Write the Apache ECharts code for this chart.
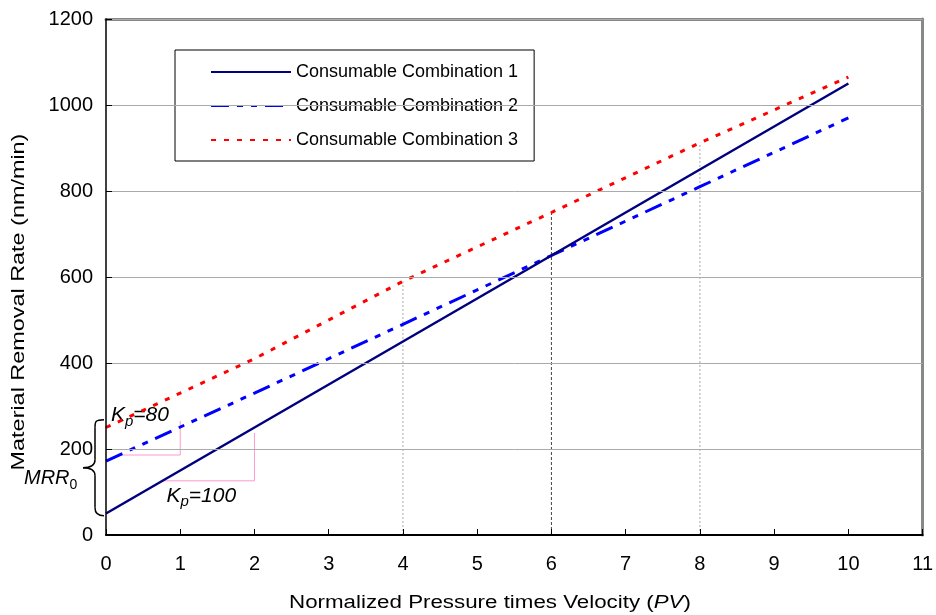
<!DOCTYPE html>
<html>
<head>
<meta charset="utf-8">
<script src="https://cdn.jsdelivr.net/npm/echarts@6/dist/echarts.min.js"></script>
<style>
html, body { margin: 0; padding: 0; background: #fff; }
#main { width: 936px; height: 615px; }
</style>
</head>
<body>
<div id="main"></div>
<script>
// values
var pv = [0, 2, 4, 6, 8, 10];
var combo1 = [50, 250, 450, 650, 850, 1050];
var combo2 = [172, 330, 490, 650, 810, 970];
var combo3 = [250, 410, 590, 750, 912, 1065];
var names = ['Consumable Combination 1', 'Consumable Combination 2', 'Consumable Combination 3'];

// drop lines down from combination 3
var dropX = [4, 6, 8];
var dropTop = [590, 750, 912];

// slope triangles (x, y) and the MRR0 brace range
var kp80 = [[0.2, 186], [1, 186], [1, 265]];
var kp100 = [[0.75, 126], [2, 126], [2, 237]];
var braceRange = [45, 268];

var FONT = 'Liberation Sans, Arial, sans-serif';

function pairs(xs, ys) {
  return xs.map(function (x, i) { return [x, ys[i]]; });
}

var chart = echarts.init(document.getElementById('main'));

var series = [
  {
    name: names[0], type: 'line', data: pairs(pv, combo1),
    symbol: 'none', z: 5,
    lineStyle: { color: '#000080', width: 2.5 },
    itemStyle: { color: '#000080' }
  },
  {
    name: names[1], type: 'line', data: pairs(pv, combo2),
    symbol: 'none', z: 4,
    lineStyle: { color: '#0000ff', width: 3, type: [18, 8, 6, 8, 6, 8] },
    itemStyle: { color: '#0000ff' }
  },
  {
    name: names[2], type: 'line', data: pairs(pv, combo3),
    symbol: 'none', z: 4,
    lineStyle: { color: '#ff0000', width: 3, type: [5, 8] },
    itemStyle: { color: '#ff0000' }
  }
];

dropX.forEach(function (x, i) {
  series.push({
    type: 'line', data: [[x, 0], [x, dropTop[i]]],
    symbol: 'none', silent: true, z: 2,
    lineStyle: x === 6
      ? { color: '#444', width: 1, type: [3, 2] }
      : { color: '#aaa', width: 1, type: [2, 2] }
  });
});

[kp80, kp100].forEach(function (tri) {
  series.push({
    type: 'line', data: tri, symbol: 'none', silent: true, z: 3,
    lineStyle: { color: '#ff99cc', width: 1 }
  });
});

var plain = function (v) { return String(v); };

var option = {
  backgroundColor: '#fff',
  animation: false,
  textStyle: { fontFamily: FONT },
  grid: { left: 106, right: 9, top: 19, bottom: 80 },
  legend: {
    data: names,
    orient: 'vertical',
    left: 175, top: 50,
    backgroundColor: '#fff',
    borderColor: '#000', borderWidth: 1,
    padding: [13, 16, 12, 35],
    itemWidth: 80, itemHeight: 14, itemGap: 16,
    itemStyle: { opacity: 0 },
    textStyle: { fontFamily: FONT, fontSize: 18, color: '#000' }
  },
  xAxis: [
    {
      type: 'value', min: 0, max: 11, interval: 1,
      axisLine: { lineStyle: { color: '#000', width: 2 } },
      axisTick: { inside: true, length: 6, lineStyle: { color: '#000' } },
      axisLabel: { fontFamily: FONT, fontSize: 20, color: '#000', margin: 19, formatter: plain },
      splitLine: { show: false },
      z: 10
    },
    {
      type: 'value', position: 'top', min: 0, max: 11,
      axisLine: { onZero: false, lineStyle: { color: '#888', width: 3 } },
      axisTick: { show: false }, axisLabel: { show: false }, splitLine: { show: false }
    }
  ],
  yAxis: [
    {
      type: 'value', min: 0, max: 1200, interval: 200,
      axisLine: { show: true, lineStyle: { color: '#000', width: 1.5 } },
      axisTick: { show: true, inside: true, length: 6, lineStyle: { color: '#000' } },
      axisLabel: { fontFamily: FONT, fontSize: 20, color: '#000', margin: 13, formatter: plain },
      splitLine: { show: true, lineStyle: { color: '#aaa', width: 1 } },
      z: 10
    },
    {
      type: 'value', position: 'right', min: 0, max: 1200,
      axisLine: { show: true, onZero: false, lineStyle: { color: '#888', width: 3 } },
      axisTick: { show: false }, axisLabel: { show: false }, splitLine: { show: false }
    }
  ],
  series: series
};

chart.setOption(option);

// annotations placed through the axes
function px(x, y) { return chart.convertToPixel({ gridIndex: 0 }, [x, y]); }

var topPt = px(0, braceRange[1]);
var botPt = px(0, braceRange[0]);
var x0 = topPt[0];
var yt = topPt[1], yb = botPt[1], ym = (yt + yb) / 2;
var bx = x0 - 11, tip = x0 - 23;
var braceStyle = { fill: null, stroke: '#000', lineWidth: 1.5 };

function curve(x1, y1, c1x, c1y, c2x, c2y, x2, y2) {
  return {
    type: 'bezierCurve', silent: true,
    shape: { x1: x1, y1: y1, cpx1: c1x, cpy1: c1y, cpx2: c2x, cpy2: c2y, x2: x2, y2: y2 },
    style: braceStyle
  };
}
function seg(x1, y1, x2, y2) {
  return { type: 'line', silent: true, shape: { x1: x1, y1: y1, x2: x2, y2: y2 }, style: braceStyle };
}

var kRich = {
  k: { fontFamily: FONT, fontSize: 21, fontStyle: 'italic', color: '#000' },
  s: { fontFamily: FONT, fontSize: 15, fontStyle: 'italic', color: '#000', padding: [13, 0, 0, 0] }
};
var p80 = px(kp80[1][0], kp80[2][1]);
var p100 = px(kp100[1][0], kp100[0][1]);

chart.setOption({
  graphic: [
    curve(x0 - 2, yt, bx, yt, bx, yt + 2, bx, yt + 8),
    seg(bx, yt + 8, bx, ym - 8),
    curve(bx, ym - 8, bx, ym - 2, bx - 4, ym, tip, ym),
    curve(tip, ym, bx - 4, ym, bx, ym + 2, bx, ym + 8),
    seg(bx, ym + 8, bx, yb - 8),
    curve(bx, yb - 8, bx, yb - 2, bx + 4, yb, x0 - 2, yb),
    {
      type: 'text', silent: true,
      x: x0 + 5, y: p80[1] - 6,
      style: { text: '{k|K}{s|p}{k|=80}', rich: kRich, verticalAlign: 'middle' }
    },
    {
      type: 'text', silent: true,
      x: p100[0] - 88, y: p100[1] + 15,
      style: { text: '{k|K}{s|p}{k|=100}', rich: kRich, verticalAlign: 'middle' }
    },
    {
      type: 'text', silent: true,
      x: 24, y: ym + 11,
      style: {
        text: '{k|MRR}{s|0}',
        verticalAlign: 'middle',
        rich: {
          k: { fontFamily: FONT, fontSize: 20, fontStyle: 'italic', color: '#000' },
          s: { fontFamily: FONT, fontSize: 14, color: '#000', padding: [12, 0, 0, 0] }
        }
      }
    },
    {
      // x-axis title, stretched like the source picture
      type: 'text', silent: true,
      x: 490, y: 603, scaleX: 1.24,
      style: {
        text: 'Normalized Pressure times Velocity ({i|PV})',
        align: 'center', verticalAlign: 'middle',
        fontFamily: FONT, fontSize: 18, fill: '#000',
        rich: { i: { fontFamily: FONT, fontSize: 18, fontStyle: 'italic', color: '#000' } }
      }
    },
    {
      // y-axis title
      type: 'text', silent: true,
      x: 19, y: 302, rotation: Math.PI / 2, scaleX: 1.3,
      style: {
        text: 'Material Removal Rate (nm/min)',
        align: 'center', verticalAlign: 'middle',
        fontFamily: FONT, fontSize: 18, fill: '#000'
      }
    }
  ]
});
</script>
</body>
</html>
